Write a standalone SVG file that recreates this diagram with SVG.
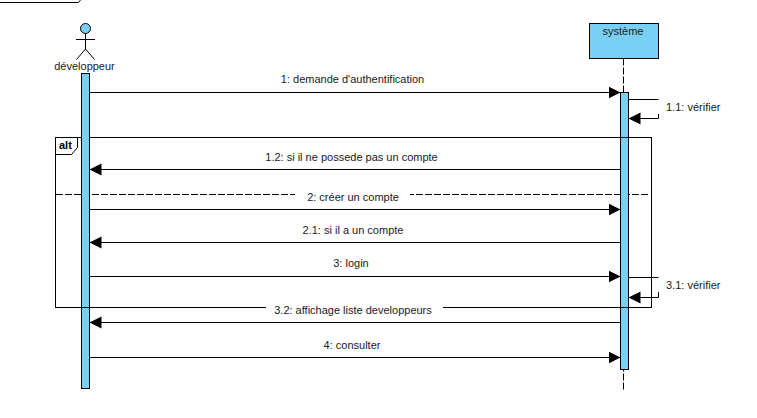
<svg xmlns="http://www.w3.org/2000/svg" width="757" height="418" viewBox="0 0 757 418">
<style>
text{font-family:"Liberation Sans",Arial,sans-serif;font-size:11px;fill:#1a1a1a}
.m{text-anchor:middle}
.l{fill:none;stroke:#000;stroke-width:1}
.b{fill:#7acff5;stroke:#000;stroke-width:1}
.d{fill:none;stroke:#000;stroke-width:1;stroke-dasharray:7 2}
.w{fill:#fff;stroke:none}
</style>
<defs>
<marker id="a" markerUnits="userSpaceOnUse" markerWidth="13" markerHeight="14" refX="12" refY="6.5" orient="auto"><path d="M0,0.5 L12,6.5 L0,12.5 Z" fill="#000"/></marker>
</defs>
<rect width="757" height="418" fill="#fff"/>
<path class="l" d="M0,2.5 H78.5 L80.5,0"/>
<g id="frame-alt">
<rect class="l" x="55.5" y="137.5" width="596" height="170"/>
<path class="d" d="M56,194.5 H649"/>
<path d="M55.5,137.5 H77.5 V147.5 L71.5,154.5 H55.5 Z" fill="#fff" stroke="#000"/>
<text x="59" y="149" style="font-weight:bold;font-size:11px;fill:#000">alt</text>
</g>
<g id="developpeur">
<circle class="b" cx="85.5" cy="28.5" r="5"/>
<path class="l" d="M85.5,33.5 V49 M76,39.5 H95 M76.5,59.5 L85.5,49 L94.5,59.5"/>
<text class="m" x="84.5" y="70">développeur</text>
<rect class="b" x="81.5" y="73.5" width="8" height="315"/>
</g>
<g id="systeme">
<rect class="b" x="589.5" y="23.5" width="69" height="35"/>
<text class="m" x="623" y="35">système</text>
<path class="d" d="M623.5,58.5 V390"/>
<rect class="b" x="620.5" y="92.5" width="8" height="277"/>
</g>
<path class="l" d="M55.5,307.5 H651.5 M620.5,137.5 H628.5"/>
<g id="connectors">
<path class="l" d="M89.5,92.5 H620.5" marker-end="url(#a)"/>
<path class="l" d="M628.5,99.5 H658.5 M658.5,114 V118.5 H628.5" marker-end="url(#a)"/>
<path class="l" d="M620.5,169.5 H89.5" marker-end="url(#a)"/>
<path class="l" d="M89.5,209.5 H620.5" marker-end="url(#a)"/>
<path class="l" d="M620.5,242.5 H89.5" marker-end="url(#a)"/>
<path class="l" d="M89.5,276.5 H620.5" marker-end="url(#a)"/>
<path class="l" d="M628.5,277.5 H658.5 M658.5,292 V297.5 H628.5" marker-end="url(#a)"/>
<path class="l" d="M620.5,322.5 H89.5" marker-end="url(#a)"/>
<path class="l" d="M89.5,357.5 H620.5" marker-end="url(#a)"/>
</g>
<g id="labels">
<text class="m" x="352.5" y="83">1: demande d'authentification</text>
<text x="666" y="111">1.1: vérifier</text>
<text class="m" x="351.5" y="161">1.2: si il ne possede pas un compte</text>
<rect class="w" x="295" y="190" width="115" height="9"/>
<text class="m" x="353" y="201">2: créer un compte</text>
<text class="m" x="353" y="234">2.1: si il a un compte</text>
<text class="m" x="351" y="267">3: login</text>
<text x="666" y="289">3.1: vérifier</text>
<rect class="w" x="266" y="303" width="177" height="9"/>
<text class="m" x="353" y="314">3.2: affichage liste developpeurs</text>
<text class="m" x="352" y="349">4: consulter</text>
</g>
</svg>
